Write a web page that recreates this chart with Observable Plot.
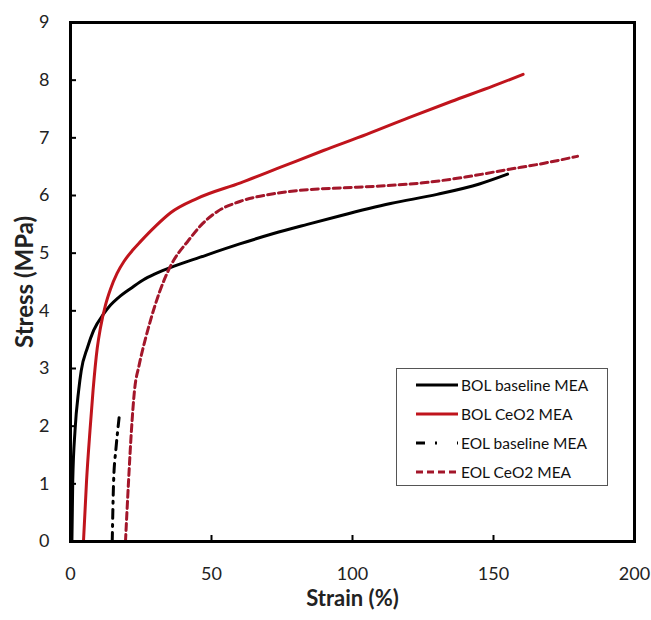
<!DOCTYPE html>
<html><head><meta charset="utf-8">
<script src="https://cdn.jsdelivr.net/npm/d3@7"></script>
<script src="https://cdn.jsdelivr.net/npm/@observablehq/plot@0.6"></script>
<style>
body{margin:0;background:#fff;}
#wrap{position:relative;width:651px;height:620px;font-family:Lato,"Open Sans",sans-serif;}
#legend{position:absolute;left:396px;top:368px;width:212px;height:118px;border:1.5px solid #555;background:#fff;box-sizing:border-box;}
.row{position:absolute;left:18px;height:20px;display:flex;align-items:center;font-size:15.5px;color:#111;white-space:nowrap;}
.row svg{margin-right:2px;}
</style></head>
<body><div id="wrap"></div>
<script>
const series = ["BOL baseline MEA","BOL CeO2 MEA","EOL baseline MEA","EOL CeO2 MEA"];
const colors = ["#000000","#c0141c","#000000","#a3162a"];
const dashes = [null,null,"9,6,2,6","7,4"];
const bolBaselineStrain = [0.5,0.8,1.6,2.9,3.8,6,8.2,11.8,14.2,17,22,25.9,30,36.5,46,60,72,84,95.7,113.5,130,145,155];
const bolBaselineStress = [0,1.06,1.92,2.62,2.96,3.36,3.66,3.95,4.1,4.23,4.41,4.54,4.64,4.77,4.93,5.16,5.34,5.5,5.65,5.86,6.02,6.2,6.37];
const bolCeo2Strain = [4.6,5.7,6.9,8.0,9.5,10.6,12.4,14.2,16.5,19,22,24.8,30,35.5,45,60.3,75,89.7,105,120,135,150,160.5];
const bolCeo2Stress = [0,1.06,1.92,2.62,3.36,3.7,4.1,4.38,4.65,4.86,5.05,5.2,5.46,5.7,5.95,6.22,6.5,6.78,7.06,7.35,7.63,7.9,8.1];
const eolBaselineStrain = [14.8,15.3,16.1,16.8,17.4];
const eolBaselineStress = [0,1.06,1.6,1.95,2.22];
const eolCeo2Strain = [19.5,20.6,21.6,22.7,24.3,26.5,28.4,31.6,35.5,41.8,47,52,60.3,72,84,95.7,112,125,140,155,168,179.8];
const eolCeo2Stress = [0,1.06,1.92,2.62,3.05,3.5,3.84,4.33,4.78,5.22,5.52,5.72,5.9,6.03,6.1,6.13,6.17,6.22,6.32,6.45,6.56,6.68];
const xTicks = [0,50,100,150,200];
const yTicks = [0,1,2,3,4,5,6,7,8,9];

const strains = [bolBaselineStrain,bolCeo2Strain,eolBaselineStrain,eolCeo2Strain];
const stresses = [bolBaselineStress,bolCeo2Stress,eolBaselineStress,eolCeo2Stress];
const data = series.map((s,i)=>strains[i].map((x,j)=>({series:s,strain:x,stress:stresses[i][j]})));

const W=651,H=620,mL=70,mR=17,mT=22,mB=79;
const innerH=H-mT-mB, innerW=W-mL-mR;
const lineMarks = data.map((d,i)=>Plot.line(d,{x:"strain",y:"stress",stroke:colors[i],strokeWidth:3,curve:"monotone-x",strokeDasharray:dashes[i]}));
const chart = Plot.plot({
  width:W,height:H,marginLeft:mL,marginRight:mR,marginTop:mT,marginBottom:mB,
  style:{fontFamily:"Lato, 'Open Sans', sans-serif",background:"#fff",color:"#222"},
  x:{domain:[0,200],label:null},
  y:{domain:[0,9],label:null},
  marks:[
    ...lineMarks,
    Plot.ruleX(xTicks,{x:d=>d,insetTop:innerH-6,stroke:"#000",strokeWidth:2}),
    Plot.ruleY(yTicks,{y:d=>d,insetRight:innerW-6,stroke:"#000",strokeWidth:2}),
    Plot.frame({stroke:"#000",strokeWidth:3}),
    Plot.axisX(xTicks,{tickSize:0,tickPadding:26,fontSize:18,label:null,tickFormat:d3.format("d")}),
    Plot.axisY(yTicks,{tickSize:0,tickPadding:21,fontSize:18,label:null,tickFormat:d3.format("d")}),
    Plot.text(["Strain (%)"],{frameAnchor:"bottom",dy:64,fontSize:22,fontWeight:"bold",fill:"#222"}),
    Plot.text(["Stress (MPa)"],{frameAnchor:"left",textAnchor:"middle",dx:-45,dy:0,rotate:-90,fontSize:24,fontWeight:"bold",fill:"#222"})
  ]
});
const wrap=document.getElementById("wrap");
wrap.appendChild(chart);
const lg=document.createElement("div");lg.id="legend";
series.forEach((s,i)=>{
  const r=document.createElement("div");r.className="row";r.style.top=(6+i*29)+"px";
  const dash = i===2 ? "9,10,2,20" : (dashes[i]||"none");
  r.innerHTML=`<svg width="44" height="8"><line x1="1" y1="4" x2="43" y2="4" stroke="${colors[i]}" stroke-width="3" stroke-dasharray="${dash}"/></svg><span>${s}</span>`;
  lg.appendChild(r);
});
wrap.appendChild(lg);
</script></body></html>
